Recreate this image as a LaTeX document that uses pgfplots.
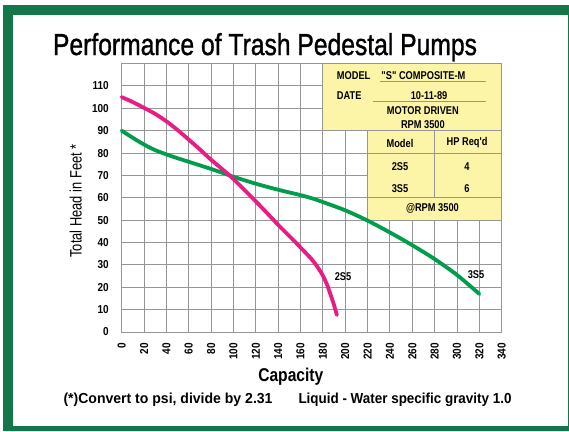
\documentclass[border=0pt]{standalone}
\usepackage{fontspec}
\usepackage{graphicx}
\usepackage{pgfplots}
\pgfplotsset{compat=1.18}
\setmainfont{Liberation Sans}
\newfontfamily\condA[FakeStretch=0.87]{Liberation Sans}
\newfontfamily\condB[FakeStretch=0.82]{Liberation Sans}
\newfontfamily\titlef[FakeBold=1.3]{Liberation Sans}
\definecolor{framegreen}{RGB}{18,120,74}
\definecolor{pinkc}{RGB}{232,28,130}
\definecolor{greenc}{RGB}{0,158,76}
\definecolor{boxyellow}{RGB}{252,244,166}
\definecolor{gridgray}{RGB}{150,150,150}
\newcommand{\bx}{\condB\bfseries\fontsize{11.3}{11.3}\selectfont}
\begin{document}
\begin{tikzpicture}[x=1pt,y=1pt]
\useasboundingbox (0,0) rectangle (569,-431);
\fill[framegreen] (3,-5) rectangle (569,-431);
\fill[white] (13,-15) rectangle (567.5,-426);
\node[anchor=base, inner sep=0] at (265,-55) {\resizebox{424pt}{\height}{\titlef\fontsize{30.3}{30}\selectfont Performance of Trash Pedestal Pumps}};
\begin{axis}[
  at={(121.7pt,-332pt)}, anchor=south west, scale only axis,
  width=380pt, height=268.4pt,
  xmin=0, xmax=340, ymin=0, ymax=120,
  xtick={0,20,...,340}, ytick={0,10,...,110},
  grid=major, major grid style={gridgray, line width=1pt},
  axis line style={gridgray, line width=1pt},
  tick style={draw=none},
  /pgf/number format/assume math mode=true,
  ticklabel style={font=\condA\bfseries\fontsize{11.5}{11.5}\selectfont, inner sep=0pt},
  xticklabel style={rotate=90, anchor=east},
  yticklabel style={anchor=east},
  xticklabel shift=11pt, yticklabel shift=12.7pt,
  clip=false]
\fill[boxyellow] (axis cs:180,90) rectangle (axis cs:340,120);
\fill[boxyellow] (axis cs:220,50) rectangle (axis cs:340,90);
\draw[gridgray, line width=1pt] (axis cs:180,120) -- (axis cs:340,120) -- (axis cs:340,50) -- (axis cs:220,50) -- (axis cs:220,90) -- (axis cs:180,90) -- cycle;
\draw[gridgray, line width=1pt] (axis cs:220,90) -- (axis cs:340,90);
\draw[gridgray, line width=1pt] (axis cs:220,80) -- (axis cs:340,80);
\draw[gridgray, line width=1pt] (axis cs:220,60) -- (axis cs:340,60);
\draw[gridgray, line width=1pt] (axis cs:280,90) -- (axis cs:280,60);
\draw[gridgray, line width=0.8pt] (axis cs:231,112.2) -- (axis cs:326,112.2);
\draw[gridgray, line width=0.8pt] (axis cs:224.5,103.3) -- (axis cs:326,103.3);
\node[anchor=west, inner sep=0] at (axis cs:192.4,114.5) {\bx MODEL};
\node[inner sep=0] at (axis cs:270,114.7) {\bx "S" COMPOSITE-M};
\node[anchor=west, inner sep=0] at (axis cs:192.4,105.6) {\bx DATE};
\node[inner sep=0] at (axis cs:275,105.6) {\bx 10-11-89};
\node[inner sep=0] at (axis cs:269.5,98.9) {\bx MOTOR DRIVEN};
\node[inner sep=0] at (axis cs:269.5,92.6) {\bx RPM 3500};
\node[inner sep=0] at (axis cs:249,84.5) {\bx Model};
\node[inner sep=0] at (axis cs:309,84.5) {\bx HP Req'd};
\node[inner sep=0] at (axis cs:249,74) {\bx 2S5};
\node[inner sep=0] at (axis cs:309,74) {\bx 4};
\node[inner sep=0] at (axis cs:249,64) {\bx 3S5};
\node[inner sep=0] at (axis cs:309,64) {\bx 6};
\node[inner sep=0] at (axis cs:278,55.2) {\bx @RPM 3500};
\addplot[greenc, line width=3.8pt, line cap=round, smooth] coordinates {
(0,90) (10,86.8) (20,83.8) (30,81.3) (40,79.4) (50,77.7) (60,76.1) (70,74.5) (80,72.9) (90,71.2) (100,69.4) (120,66.3) (140,63.6) (160,61.2) (170,59.8) (180,58.1) (200,54.4) (220,49.8) (240,44.5) (260,38.8) (280,32.6) (300,25.5) (320,17)};
\addplot[pinkc, line width=3.8pt, line cap=round, smooth] coordinates {
(0,105) (10,102.8) (20,100.2) (30,97.5) (40,94.2) (50,90.3) (60,86) (70,81.6) (80,77) (90,72.8) (100,68.4) (110,63.4) (120,58.4) (130,53.2) (140,47.9) (150,42.9) (160,37.8) (170,32.5) (175,29.2) (180,25.2) (184,20.8) (187,16.5) (190,12) (192.5,7.6)};
\node[inner sep=0] at (axis cs:198,24.7) {\bx 2S5};
\node[inner sep=0] at (axis cs:317,25.5) {\bx 3S5};
\end{axis}
\node[rotate=90, anchor=base, inner sep=0] at (81.7,-201) {\resizebox{113pt}{\height}{\fontsize{16.5}{16.5}\selectfont Total Head in Feet *}};
\node[anchor=base, inner sep=0] at (290.8,-381.7) {\resizebox{65pt}{\height}{\bfseries\fontsize{18.5}{18.5}\selectfont Capacity}};
\node[anchor=base west, inner sep=0] at (63.3,-403.3) {\resizebox{209pt}{\height}{\bfseries\fontsize{14.5}{14.5}\selectfont (*)Convert to psi, divide by 2.31}};
\node[anchor=base west, inner sep=0] at (298.3,-403.3) {\resizebox{213pt}{\height}{\bfseries\fontsize{14.5}{14.5}\selectfont Liquid - Water specific gravity 1.0}};
\end{tikzpicture}
\end{document}
